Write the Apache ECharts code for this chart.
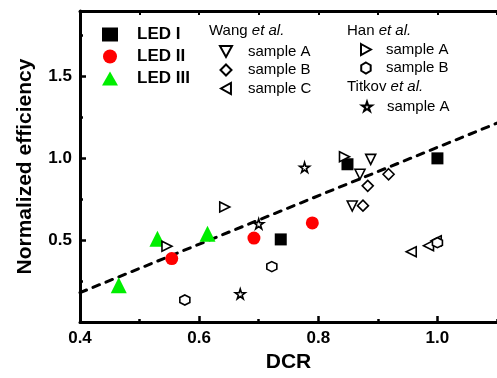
<!DOCTYPE html>
<html>
<head>
<meta charset="utf-8">
<script src="https://cdn.jsdelivr.net/npm/echarts@6/dist/echarts.min.js"></script>
<style>
  html, body { margin: 0; padding: 0; background: #fff; }
  #chart { width: 497px; height: 378px; }
</style>
</head>
<body>
<div id="chart"></div>
<script>
// data: [DCR, normalized efficiency]
const ledI = [[0.737, 0.505], [0.849, 0.964], [1.0, 1.0]]
const ledII = [[0.554, 0.388], [0.692, 0.513], [0.79, 0.606]]
const ledIII = [[0.465, 0.225], [0.53, 0.509], [0.614, 0.54]]
const wangA = [[0.888, 0.994], [0.87, 0.903], [0.857, 0.709]]
const wangB = [[0.918, 0.903], [0.883, 0.832], [0.875, 0.711]]
const wangC = [[0.956, 0.43], [0.985, 0.467], [0.998, 0.497]]
const hanA = [[0.546, 0.463], [0.643, 0.703], [0.844, 1.01]]
const hanB = [[0.576, 0.135], [0.722, 0.339], [1.0, 0.485]]
const titkovA = [[0.669, 0.172], [0.7, 0.6], [0.777, 0.945]]
const fitLine = [[0.4, 0.18], [1.1, 1.215]]

const FONT = "Arial, 'Liberation Sans', sans-serif"
const STAR = "path://M50,0 L61,35 L98,35 L68,57 L79,91 L50,70 L21,91 L32,57 L2,35 L39,35 Z"
const HEX = "path://M50,0 L93,25 L93,75 L50,100 L7,75 L7,25 Z"
const TRI_DOWN = "path://M0,0 L100,0 L50,90 Z"
const TRI_LEFT = "path://M90,0 L90,100 L0,50 Z"
const TRI_RIGHT = "path://M0,0 L90,50 L0,100 Z"
const DIAMOND = "path://M50,0 L100,50 L50,100 L0,50 Z"

const chart = echarts.init(document.getElementById("chart"))

function openSeries(name, data, symbol, size) {
  return {
    name: name,
    type: "scatter",
    data: data,
    symbol: symbol,
    symbolSize: size,
    itemStyle: { color: "#fff", borderColor: "#000", borderWidth: 1.6, opacity: 1 },
    z: 3,
  }
}

function filledSeries(name, data, symbol, size, color) {
  return {
    name: name,
    type: "scatter",
    data: data,
    symbol: symbol,
    symbolSize: size,
    itemStyle: { color: color, opacity: 1 },
    z: 2,
  }
}

const nameOnly = (n) => n.split("|").pop()
const heading = (who) => ({
  text: "{n|" + who + " }{i|et al.}",
  rich: {
    n: { fontFamily: FONT, fontSize: 15, fill: "#000" },
    i: { fontFamily: FONT, fontSize: 15, fontStyle: "italic", fill: "#000" },
  },
})

const option = {
  animation: false,
  grid: { left: 80, top: 11, right: -5, bottom: 54 },
  xAxis: [
    {
      type: "value", min: 0.4, max: 1.1, interval: 0.2,
      name: "DCR", nameLocation: "middle", nameGap: 27,
      nameTextStyle: { fontFamily: FONT, fontSize: 21, fontWeight: "bold", color: "#000" },
      axisLine: { lineStyle: { color: "#000", width: 3 } },
      axisTick: { inside: true, length: 6, lineStyle: { width: 2.5, color: "#000" } },
      axisLabel: {
        margin: 8, showMaxLabel: false, fontFamily: FONT, fontSize: 17, fontWeight: "bold", color: "#000",
        formatter: (v) => v.toFixed(1),
      },
      splitLine: { show: false },
    },
    {
      type: "value", min: 0.4, max: 1.1, interval: 0.1, position: "bottom",
      axisLine: { show: false },
      axisTick: { inside: true, length: 3, lineStyle: { width: 2.5, color: "#000" } },
      axisLabel: { show: false },
      splitLine: { show: false },
    },
    {
      type: "value", min: 0.4, max: 1.1, interval: 0.1, position: "top",
      axisLine: { lineStyle: { color: "#000", width: 3 } },
      axisTick: { inside: true, length: 4, lineStyle: { width: 2, color: "#000" } },
      axisLabel: { show: false },
      splitLine: { show: false },
    },
  ],
  yAxis: [
    {
      type: "value", min: 0, max: 1.9, interval: 0.5,
      name: "Normalized efficiency", nameLocation: "middle", nameGap: 44,
      nameTextStyle: { fontFamily: FONT, fontSize: 21, fontWeight: "bold", color: "#000" },
      axisLine: { lineStyle: { color: "#000", width: 3 } },
      axisTick: { inside: true, length: 6, lineStyle: { width: 2.5, color: "#000" } },
      axisLabel: {
        margin: 8, showMinLabel: false, showMaxLabel: false,
        fontFamily: FONT, fontSize: 17, fontWeight: "bold", color: "#000",
        formatter: (v) => v.toFixed(1),
      },
      splitLine: { show: false },
    },
    {
      type: "value", min: 0, max: 1.9, interval: 0.25, position: "left",
      axisLine: { show: false },
      axisTick: { inside: true, length: 3, lineStyle: { width: 2.5, color: "#000" } },
      axisLabel: { show: false },
      splitLine: { show: false },
    },
  ],
  legend: [
    {
      data: ["LED I", "LED II", "LED III"],
      orient: "vertical", left: 97, top: 21, itemWidth: 16, itemHeight: 14, itemGap: 5,
      textStyle: { fontFamily: FONT, fontSize: 17, fontWeight: "bold", color: "#000", padding: [0, 0, 0, 14] },
      selectedMode: false,
    },
    {
      data: ["Wang|sample A", "Wang|sample B", "Wang|sample C"],
      orient: "vertical", left: 214, top: 39, itemWidth: 12, itemHeight: 11, itemGap: 3.5,
      formatter: nameOnly,
      textStyle: { fontFamily: FONT, fontSize: 15, color: "#000", padding: [0, 0, 0, 11] },
      selectedMode: false,
    },
    {
      data: ["Han|sample A", "Han|sample B"],
      orient: "vertical", left: 355, top: 37, itemWidth: 12, itemHeight: 11, itemGap: 3.5,
      formatter: nameOnly,
      textStyle: { fontFamily: FONT, fontSize: 15, color: "#000", padding: [0, 0, 0, 9] },
      selectedMode: false,
    },
    {
      data: ["Titkov|sample A"],
      orient: "vertical", left: 356, top: 94, itemWidth: 10, itemHeight: 10,
      formatter: nameOnly,
      textStyle: { fontFamily: FONT, fontSize: 15, color: "#000", padding: [0, 0, 0, 10] },
      selectedMode: false,
    },
  ],
  graphic: [
    { type: "text", left: 209, top: 23, style: heading("Wang") },
    { type: "text", left: 347, top: 23, style: heading("Han") },
    { type: "text", left: 347, top: 79, style: heading("Titkov") },
  ],
  series: [
    {
      name: "fit", type: "line", data: fitLine, showSymbol: false, symbol: "none",
      lineStyle: { color: "#000", width: 3, type: [7, 7], cap: "round" }, z: 1,
    },
    filledSeries("LED I", ledI, "rect", 12, "#000"),
    filledSeries("LED II", ledII, "circle", 13, "#ff0000"),
    filledSeries("LED III", ledIII, "triangle", 16, "#00ee00"),
    openSeries("Wang|sample A", wangA, TRI_DOWN, 10),
    openSeries("Wang|sample B", wangB, DIAMOND, 11),
    openSeries("Wang|sample C", wangC, TRI_LEFT, 10),
    openSeries("Han|sample A", hanA, TRI_RIGHT, 10),
    openSeries("Han|sample B", hanB, HEX, 10),
    openSeries("Titkov|sample A", titkovA, STAR, 10),
  ],
}

chart.setOption(option)
window.addEventListener("resize", () => chart.resize())
</script>
</body>
</html>
